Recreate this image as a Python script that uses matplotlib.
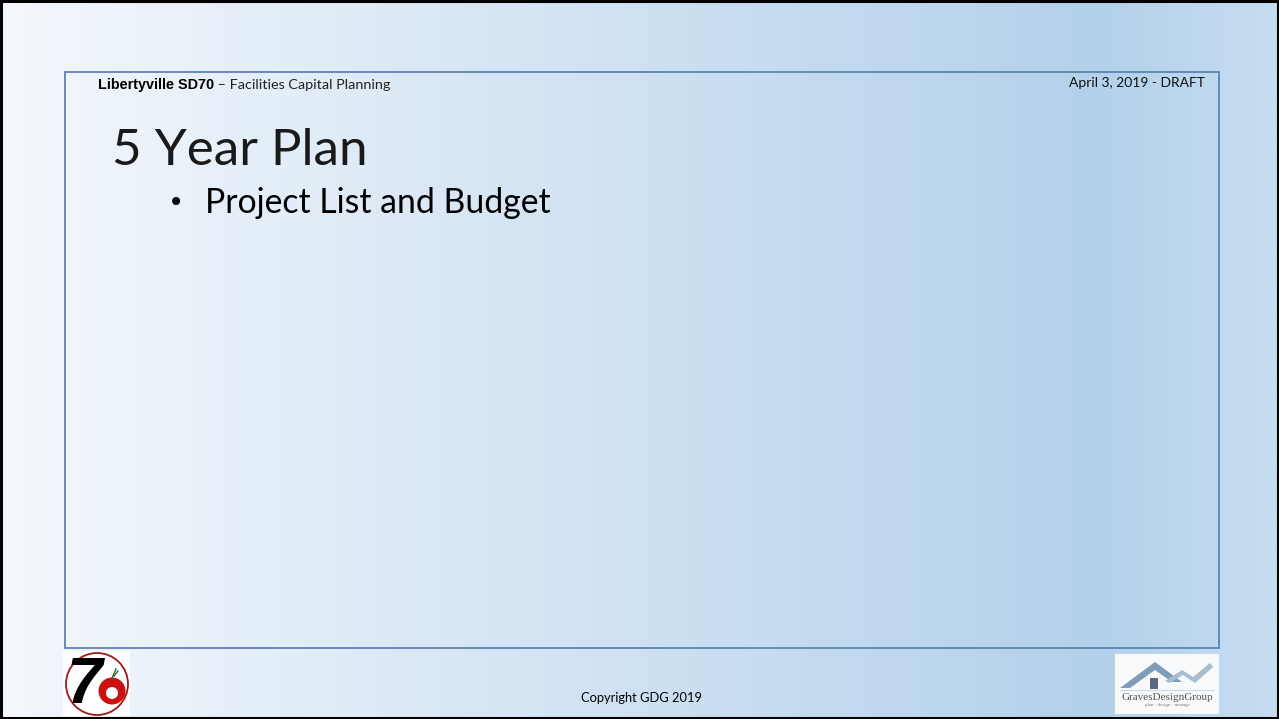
import numpy as np
import matplotlib.pyplot as plt
from matplotlib.patches import Rectangle, Circle, Polygon
from matplotlib.colors import LinearSegmentedColormap

header_bold = "Libertyville SD70"
header_rest = " – Facilities Capital Planning"
header_date = "April 3, 2019 - DRAFT"
title = "5 Year Plan"
bullets = ["Project List and Budget"]
footer = "Copyright GDG 2019"
logo_right_text = "GravesDesignGroup"

W, H = 1279, 719
fig = plt.figure(figsize=(W / 100, H / 100), dpi=100)
ax = fig.add_axes([0, 0, 1, 1])
ax.set_xlim(0, W)
ax.set_ylim(H, 0)
ax.axis("off")

# background gradient
cmap = LinearSegmentedColormap.from_list(
    "bg", [(0.0, "#f4f8fc"), (0.45, "#d2e3f3"), (0.86, "#b3d1ea"), (1.0, "#c6ddf0")])
grad = np.linspace(0, 1, 512).reshape(1, -1)
ax.imshow(grad, cmap=cmap, extent=[0, W, H, 0], aspect="auto", zorder=0)

# outer black border
ax.add_patch(Rectangle((1, 1), W - 2, H - 2, fill=False, edgecolor="black", lw=2.2, zorder=5))
# inner frame
ax.add_patch(Rectangle((65, 72), 1219 - 65, 648 - 72, fill=False, edgecolor="#5b84b5", lw=1.3, zorder=4))

# header
t = ax.text(98, 85, header_bold, fontsize=10.4, fontweight="bold", family="Liberation Sans",
            va="center", ha="left", color="black", zorder=6)
fig.canvas.draw()
bb = t.get_window_extent(renderer=fig.canvas.get_renderer())
inv = ax.transData.inverted()
xd = inv.transform((bb.x1, 0))[0]
ax.text(xd, 85, header_rest, fontsize=10.4, family="Lato", va="center", ha="left",
        color="#222222", zorder=6)
ax.text(1205, 83, header_date, fontsize=10, family="Lato", va="center", ha="right",
        color="#111111", zorder=6)

# title
ax.text(112, 151, title, fontsize=36.8, family="Lato", fontweight="normal", va="center",
        ha="left", color="#1a1a1a", zorder=6)
for i, b in enumerate(bullets):
    y = 203 + i * 40
    ax.text(168, y, "•", fontsize=20, family="DejaVu Sans", va="center", ha="left", color="black", zorder=6)
    ax.text(205, y, b, fontsize=24.3, family="Lato", va="center", ha="left", color="black", zorder=6)

# footer
ax.text(641, 698, footer, fontsize=9.3, family="Lato", va="center", ha="center", color="black", zorder=6)

# left logo (SD70)
ax.add_patch(Rectangle((63, 651), 67, 65, facecolor="white", edgecolor="none", zorder=3))
ax.add_patch(Circle((97, 684), 31, fill=False, edgecolor="#a01818", lw=1.3, zorder=4))
ax.text(84, 686, "7", fontsize=46, fontweight="bold", family="Liberation Sans", style="italic",
        color="black", va="center", ha="center", zorder=5)
ax.add_patch(Circle((112, 691), 13.5, facecolor="#cc1111", edgecolor="none", zorder=5))
ax.add_patch(Circle((112, 693), 6, facecolor="white", edgecolor="none", zorder=6))
ax.plot([112, 116], [678, 669], color="#336633", lw=1, zorder=6)
ax.plot([114, 118], [676, 671], color="#336633", lw=1, zorder=6)

# right logo (GDG)
ax.add_patch(Rectangle((1115, 654), 104, 60, facecolor="#f7f9fb", edgecolor="none", zorder=3))
ax.add_patch(Polygon([(1120, 688), (1155, 662), (1182, 682), (1172, 682), (1155, 670), (1130, 688)],
                     closed=True, facecolor="#7f9cb8", edgecolor="none", zorder=4))
ax.add_patch(Polygon([(1165, 681), (1182, 670), (1193, 677), (1210, 663), (1213, 667), (1195, 683), (1183, 675), (1170, 683)],
                     closed=True, facecolor="#a8bdd0", edgecolor="none", zorder=4))
ax.add_patch(Rectangle((1150, 678), 8, 11, facecolor="#5a6a80", edgecolor="none", zorder=5))
ax.plot([1120, 1214], [690, 690], color="#c8d0d8", lw=0.6, zorder=4)
ax.text(1167, 697, logo_right_text, fontsize=8, family="Liberation Serif", color="#555555",
        va="center", ha="center", zorder=5)
ax.text(1167, 705, "plan · design · manage", fontsize=3.5, family="Liberation Serif", color="#777777",
        va="center", ha="center", zorder=5)

fig.savefig("out.png", dpi=100)
